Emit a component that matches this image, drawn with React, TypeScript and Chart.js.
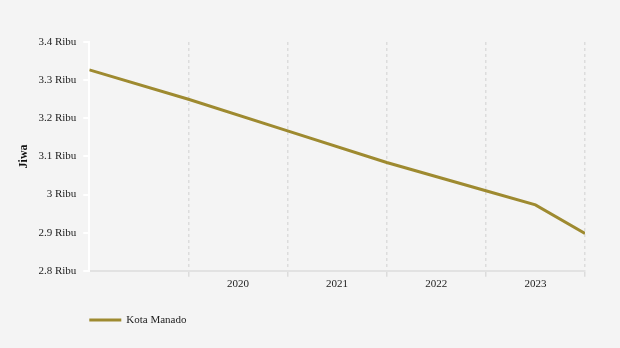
import React, { useEffect, useRef } from "react";
import { Chart, registerables } from "chart.js";

Chart.register(...registerables);

const seriesLabel = "Kota Manado";
const xPositions = [2018.5, 2019.5, 2020.5, 2021.5, 2022.5, 2023, 2023.5];
const values = [3.327, 3.25, 3.167, 3.084, 3.01, 2.973, 2.898];
const gridTicks = [2019.5, 2020.5, 2021.5, 2022.5, 2023.5];
const yTicks = [2.8, 2.9, 3.0, 3.1, 3.2, 3.3, 3.4];
const yUnit = "Ribu";
const yTitle = "Jiwa";

const LINE_COLOR = "#9e8a30";
const FONT = "'Liberation Serif', 'Times New Roman', serif";

export default function App() {
  const ref = useRef<HTMLCanvasElement | null>(null);

  useEffect(() => {
    document.body.style.margin = "0";
    const canvas = ref.current;
    if (!canvas) return;

    const legendPlugin = {
      id: "customLegend",
      afterDraw(chart: any) {
        const ctx = chart.ctx;
        const left = chart.chartArea.left;
        const y = 320;
        ctx.save();
        ctx.strokeStyle = LINE_COLOR;
        ctx.lineWidth = 3;
        ctx.beginPath();
        ctx.moveTo(left, y);
        ctx.lineTo(left + 32, y);
        ctx.stroke();
        ctx.fillStyle = "#222";
        ctx.font = `11px ${FONT}`;
        ctx.textBaseline = "middle";
        ctx.textAlign = "left";
        ctx.fillText(chart.data.datasets[0].label, left + 37, y);
        ctx.restore();
      },
    };

    const chart = new Chart(canvas, {
      type: "line",
      data: {
        datasets: [
          {
            label: seriesLabel,
            data: xPositions.map((x, i) => ({ x, y: values[i] })),
            borderColor: LINE_COLOR,
            backgroundColor: LINE_COLOR,
            borderWidth: 3,
            pointRadius: 0,
            tension: 0,
          },
        ],
      },
      options: {
        animation: false,
        responsive: false,
        maintainAspectRatio: false,
        layout: { padding: { left: 17, right: 35, top: 42, bottom: 56 } },
        plugins: {
          legend: { display: false },
          tooltip: { enabled: false },
        },
        scales: {
          x: {
            type: "linear",
            min: 2018.5,
            max: 2023.5,
            afterBuildTicks: (scale: any) => {
              scale.ticks = gridTicks.map((v) => ({ value: v }));
            },
            grid: {
              display: true,
              color: "#dcdcdc",
              lineWidth: 1.5,
              tickLength: 6,
              tickColor: "#dcdcdc",
            },
            border: { display: true, color: "#e2e2e2", width: 2 },
            ticks: {
              color: "#222",
              font: { family: FONT, size: 11 },
              labelOffset: -49.6,
              padding: 1,
              maxRotation: 0,
              autoSkip: false,
              callback: (v: any) => {
                const n = Number(v) - 0.5;
                return n >= 2020 ? String(n) : "";
              },
            },
          },
          y: {
            type: "linear",
            min: 2.8,
            max: 3.4,
            afterBuildTicks: (scale: any) => {
              scale.ticks = yTicks.map((v) => ({ value: v }));
            },
            grid: {
              drawOnChartArea: false,
              drawTicks: true,
              tickLength: 6,
              tickColor: "#ffffff",
              lineWidth: 2,
            },
            border: { display: true, color: "#ffffff", width: 2 },
            title: {
              display: true,
              text: yTitle,
              color: "#111",
              font: { family: FONT, size: 12, weight: "bold" },
              padding: { top: 0, bottom: 0 },
            },
            ticks: {
              color: "#222",
              font: { family: FONT, size: 11 },
              padding: 7,
              callback: (v: any) => `${parseFloat(Number(v).toFixed(1))} ${yUnit}`,
            },
          },
        },
      },
      plugins: [
        {
          id: "bg",
          beforeDraw(chart: any) {
            const ctx = chart.ctx;
            ctx.save();
            ctx.fillStyle = "#f4f4f4";
            ctx.fillRect(0, 0, chart.width, chart.height);
            ctx.restore();
          },
        },
        legendPlugin,
      ],
    } as any);

    (chart.options.scales as any).x.grid.borderDash = [3, 3];
    (chart.options.scales as any).x.border.dash = [3, 3];
    chart.update();

    return () => chart.destroy();
  }, []);

  return (
    <div style={{ width: 620, height: 348, background: "#f4f4f4" }}>
      <canvas ref={ref} width={620} height={348} style={{ display: "block" }} />
    </div>
  );
}
